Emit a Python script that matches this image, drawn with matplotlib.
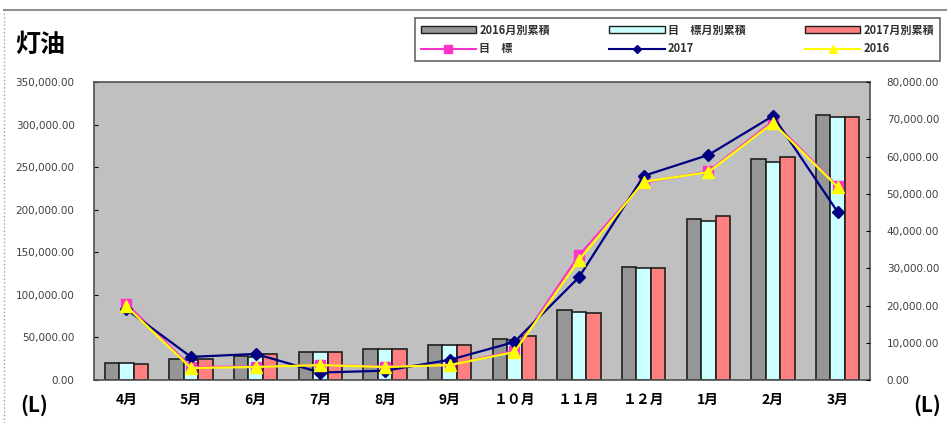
import numpy as np
import matplotlib.pyplot as plt
from matplotlib.patches import Patch
from matplotlib.lines import Line2D

plt.rcParams['font.family'] = ['Noto Sans CJK JP', 'DejaVu Sans']

# months (fiscal year order)
months = ['4月', '5月', '6月', '7月', '8月', '9月', '１０月', '１１月', '１２月', '1月', '2月', '3月']

# cumulative amounts (left axis, L)
cum_2016 = [20500, 24500, 28000, 33000, 36000, 41000, 48000, 82000, 132500, 189000, 259500, 311000]
cum_target = [20000, 24000, 27500, 33000, 36000, 41000, 47500, 80000, 131500, 187000, 256500, 309000]
cum_2017 = [18500, 25000, 30000, 33000, 36000, 41000, 51500, 79000, 131500, 193000, 262000, 309000]

# monthly amounts (right axis, L)
mon_target = [20500, 3500, 3600, 4000, 3600, 4000, 7800, 33500, 53000, 56000, 69500, 52000]
mon_2017 = [19000, 6200, 7000, 2000, 2500, 5400, 10200, 27600, 54800, 60400, 70900, 45100]
mon_2016 = [19800, 3200, 3500, 4000, 3500, 4000, 7500, 32200, 53200, 55800, 69000, 51800]

x = np.arange(len(months))
w = 0.225

fig = plt.figure(figsize=(9.47, 4.23), dpi=100)
ax = fig.add_axes([94/947, 43/423, 776/947, 298/423])
ax.set_facecolor('#c0c0c0')

ax.bar(x - w, cum_2016, w, color='#969696', edgecolor='#202020', linewidth=1.2, zorder=2)
ax.bar(x, cum_target, w, color='#ccffff', edgecolor='#202020', linewidth=1.2, zorder=2)
ax.bar(x + w, cum_2017, w, color='#ff8080', edgecolor='#202020', linewidth=1.2, zorder=2)

ax.set_xlim(-0.5, len(months) - 0.5)
ax.set_ylim(0, 350000)
ax.set_yticks(np.arange(0, 350001, 50000))
ax.set_yticklabels(['{:,.2f}'.format(v) for v in np.arange(0, 350001, 50000)],
                   fontsize=7.5, color='#404040', family='Liberation Sans Narrow')
ax.set_xticks(x)
ax.set_xticklabels(months, fontsize=10, fontweight='bold')
ax.tick_params(axis='x', length=0, pad=9)
ax.tick_params(axis='y', direction='in', length=3, pad=14)
for s in ax.spines.values():
    s.set_color('#505050')
    s.set_linewidth(1.2)

ax2 = ax.twinx()
ax2.set_ylim(0, 80000)
ax2.set_yticks(np.arange(0, 80001, 10000))
ax2.set_yticklabels(['{:,.2f}'.format(v) for v in np.arange(0, 80001, 10000)],
                    fontsize=7.5, color='#404040', family='Liberation Sans Narrow')
ax2.tick_params(axis='y', direction='in', length=3, pad=12)
for s in ax2.spines.values():
    s.set_visible(False)

ax2.plot(x, mon_target, color='#ff33cc', marker='s', markersize=7, linewidth=1.6, zorder=3)
ax2.plot(x, mon_2017, color='#000080', marker='D', markersize=6, linewidth=1.6, zorder=4)
ax2.plot(x, mon_2016, color='#ffff00', marker='^', markersize=8, linewidth=1.6, zorder=5)

# title and unit labels
fig.text(15/947, 1 - 45/423, '灯油', fontsize=18, fontweight='bold', va='center')
fig.text(20/947, 1 - 405/423, '(L)', fontsize=15, fontweight='bold', va='center')
fig.text(913/947, 1 - 405/423, '(L)', fontsize=15, fontweight='bold', va='center')

# outer frame lines
fig.add_artist(Line2D([4/947, 1], [1 - 10/423] * 2, color='#909090', linewidth=1.5))
fig.add_artist(Line2D([4/947] * 2, [0, 1 - 10/423], color='#a0a0a0', linewidth=1, linestyle=':'))

# legend
handles = [
    Patch(facecolor='#969696', edgecolor='#202020'),
    Line2D([], [], color='#ff33cc', marker='s', markersize=6),
    Patch(facecolor='#ccffff', edgecolor='#202020'),
    Line2D([], [], color='#000080', marker='D', markersize=4),
    Patch(facecolor='#ff8080', edgecolor='#202020'),
    Line2D([], [], color='#ffff00', marker='^', markersize=6),
]
labels = ['2016月別累積', '目　標', '目　標月別累積', '2017', '2017月別累積', '2016']
leg = fig.legend(handles, labels, ncol=3, loc='upper left',
                 bbox_to_anchor=(415/947, 1 - 70/423, 525/947, 52/423), mode='expand',
                 prop={'size': 8, 'weight': 'bold'}, frameon=True, fancybox=False,
                 edgecolor='#404040', handlelength=5, handleheight=0.5, handletextpad=0.3,
                 borderaxespad=0, labelspacing=0.5, borderpad=0.5, columnspacing=1.0)
leg.get_frame().set_linewidth(1.2)
for t in leg.get_texts():
    t.set_color('#303030')

fig.savefig('out.png', dpi=100)
